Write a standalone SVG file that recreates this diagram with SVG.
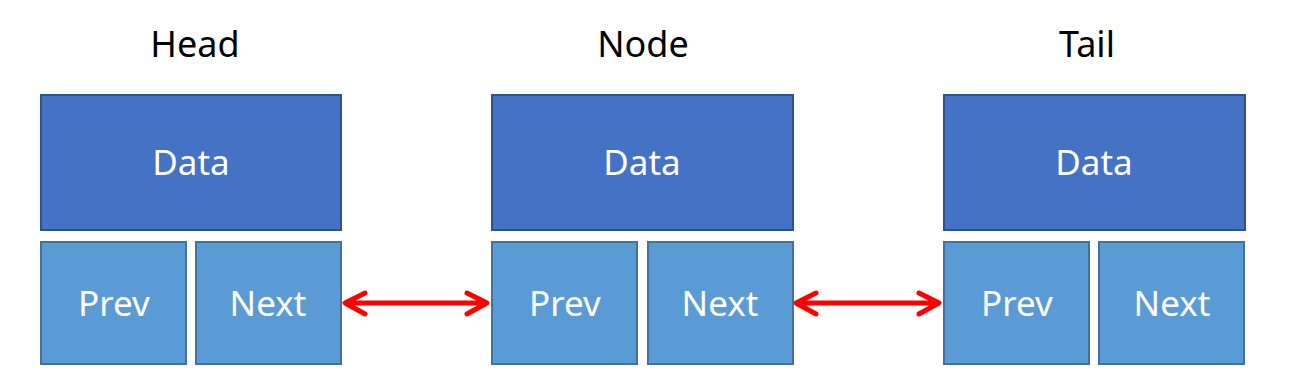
<svg xmlns="http://www.w3.org/2000/svg" width="1297" height="391" viewBox="0 0 1297 391">
<style>
.data{fill:#4472C4;stroke:#2F528F;stroke-width:2}
.ptr{fill:#5B9BD5;stroke:#41719C;stroke-width:2}
.lbl{font-family:"Noto Sans","Open Sans",sans-serif;font-size:35px;fill:#fff;text-anchor:middle}
.title{font-family:"Noto Sans","Open Sans",sans-serif;font-size:36px;fill:#000;text-anchor:middle}
.arr{fill:none;stroke:#FF0000;stroke-width:5;stroke-linecap:round;stroke-linejoin:round}
</style>
<rect width="1297" height="391" fill="#fff"/>
<g id="head">
<text class="title" x="195" y="57">Head</text>
<rect class="data" x="41" y="95" width="300" height="135"/>
<text class="lbl" x="191" y="175">Data</text>
<rect class="ptr" x="41" y="242" width="145" height="122"/>
<text class="lbl" x="114" y="316">Prev</text>
<rect class="ptr" x="196" y="242" width="145" height="122"/>
<text class="lbl" x="268" y="316">Next</text>
</g>
<g id="node">
<text class="title" x="643" y="57">Node</text>
<rect class="data" x="492" y="95" width="301" height="135"/>
<text class="lbl" x="642" y="175">Data</text>
<rect class="ptr" x="492" y="242" width="145" height="122"/>
<text class="lbl" x="565" y="316">Prev</text>
<rect class="ptr" x="648" y="242" width="145" height="122"/>
<text class="lbl" x="720" y="316">Next</text>
</g>
<g id="tail">
<text class="title" x="1087" y="57">Tail</text>
<rect class="data" x="944" y="95" width="301" height="135"/>
<text class="lbl" x="1094" y="175">Data</text>
<rect class="ptr" x="944" y="242" width="145" height="122"/>
<text class="lbl" x="1017" y="316">Prev</text>
<rect class="ptr" x="1099" y="242" width="145" height="122"/>
<text class="lbl" x="1172" y="316">Next</text>
</g>
<g id="connectors">
<path class="arr" d="M346 303 H486 M365 293 L345 303 L365 314 M467 293 L487 303 L467 314"/>
<path class="arr" d="M797 303 H938 M816 293 L796 303 L816 314 M919 293 L939 303 L919 314"/>
</g>
</svg>
